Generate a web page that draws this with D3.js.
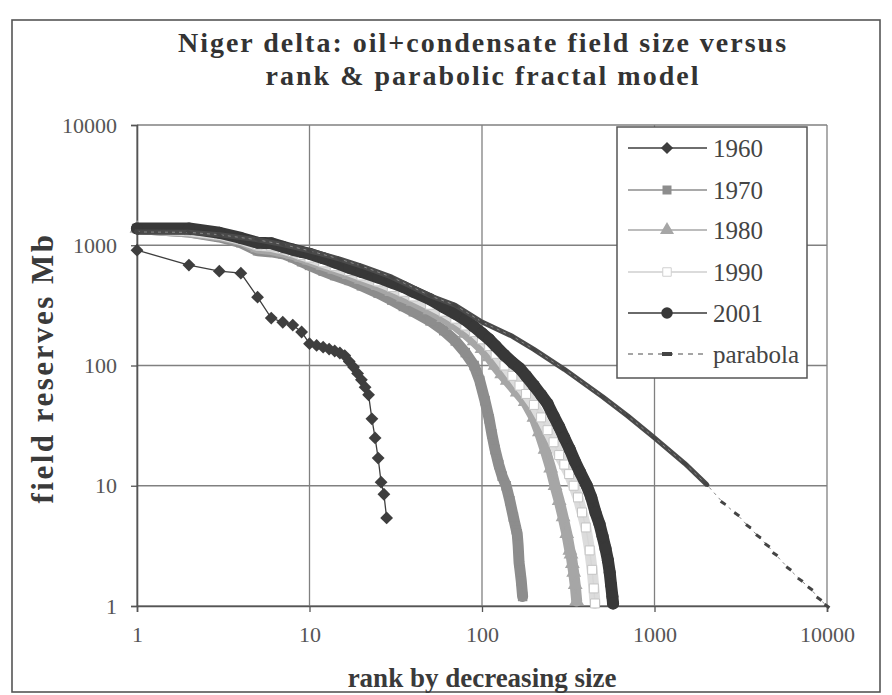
<!DOCTYPE html>
<html><head><meta charset="utf-8">
<script src="https://cdn.jsdelivr.net/npm/d3@7"></script>
<style>body{margin:0;background:#fff}svg{display:block}</style>
</head><body><svg id="c" width="892" height="695"></svg>
<script>
// ---------- data ----------
const axisTicks = [1, 10, 100, 1000, 10000];
const tickLabels = ["1", "10", "100", "1000", "10000"];
const seriesNames = ["1960", "1970", "1980", "1990", "2001", "parabola"];

const ranks1960  = [1,2,3,4,5,6,7,8,9,10,11,12,13,14,15,16,17,18,19,20,21,22,23,24,25,26,27,28];
const values1960 = [910,684,609,586,370,248,229,217,190,152,147,142,137,132,127,121,108,97,86,76,66,57,36,25,17,10.7,8.5,5.4];

const ranks1970  = [1,2,3,4,5,6,7,8,9,10,12,14,17,20,25,30,35,40,50,60,70,80,90,97,104,110,114,119,125,131,138,145,152,158,160,162,164,166,169,172];
const values1970 = [1380,1290,1170,1050,900,880,850,790,730,680,610,560,510,460,400,350,310,280,235,195,160,128,100,75,51,36,27,20,15,12,10,7.5,5.5,4.3,4.0,3.2,2.3,2.0,1.6,1.2];

const ranks1980  = [1,2,3,4,5,6,7,8,9,10,12,14,17,20,25,30,35,40,50,60,70,80,90,100,110,119,130,140,160,178,200,215,232,250,265,280,295,310,323,328,334,340,347,354];
const values1980 = [1380,1290,1200,1100,950,920,880,840,790,750,680,630,570,520,460,410,370,340,290,250,215,185,160,138,118,100,85,75,60,50,37,28,20,14,10,7.5,5.5,4.0,2.9,2.7,2.25,1.9,1.5,1.1];

const ranks1990  = [1,2,3,4,5,6,7,8,9,10,12,14,17,20,25,30,35,40,50,60,70,80,90,100,110,120,135,150,165,180,200,220,240,260,280,300,320,340,360,380,400,421,435,445,452];
const values1990 = [1380,1320,1230,1120,1000,980,930,880,830,790,720,670,610,560,500,450,410,375,320,280,245,215,190,165,145,125,100,82,68,58,47,37,29,23,18,15,12.5,10,8,6,4.5,2.9,2.0,1.4,1.05];

const ranks2001  = [1,2,3,4,5,6,7,8,9,10,12,14,17,20,25,30,35,40,50,60,70,80,90,100,110,120,135,150,165,180,200,220,240,260,280,300,323,345,370,405,430,455,480,500,520,537,550,560,570,575];
const values2001 = [1380,1380,1270,1150,1050,1040,970,920,880,850,780,720,650,600,540,490,450,410,355,305,270,240,210,185,165,145,122,106,95,82,68,57,48,38,31,25,20,16,13,10,8,6,4.8,3.8,3.0,2.4,1.9,1.5,1.2,1.05];

const ranksParabola  = [1,2,3,5,7,10,15,20,30,50,70,100,150,200,300,500,700,1000,1500,2000,2500,3000,3500,4000,4500,5000,6000,7000,8000,9000,10000];
const valuesParabola = [1290,1280,1224,1110,1015,900,767,672,543,380,317,230,175,136,93,55,38,25,15.3,10.3,7.2,5.8,4.6,3.8,3.2,2.7,2.05,1.65,1.4,1.15,1.0];

// ---------- layout ----------
const svg = d3.select("#c");
const x = d3.scaleLog().domain([1, 10000]).range([137, 827]);
const y = d3.scaleLog().domain([1, 10000]).range([606, 125]);
const serif = "Liberation Serif, Times New Roman, serif";

// outer frame
svg.append("rect").attr("x", 12).attr("y", 20).attr("width", 868).attr("height", 672)
  .attr("fill", "#fff").attr("stroke", "#555").attr("stroke-width", 1.6);

// title
const title = svg.append("text").attr("text-anchor", "middle")
  .attr("font-family", serif).attr("font-weight", "bold")
  .attr("font-size", 28).attr("letter-spacing", 2).attr("fill", "#333");
title.append("tspan").attr("x", 483).attr("y", 52).text("Niger delta: oil+condensate field size versus");
title.append("tspan").attr("x", 483).attr("y", 85).text("rank & parabolic fractal model");

// grid
const grid = svg.append("g").attr("stroke", "#808080").attr("stroke-width", 1.3);
axisTicks.forEach(t => {
  grid.append("line").attr("x1", x(1)).attr("x2", x(10000)).attr("y1", y(t)).attr("y2", y(t));
  grid.append("line").attr("x1", x(t)).attr("x2", x(t)).attr("y1", y(1)).attr("y2", y(10000));
});

// axes
const fmt = d => tickLabels[axisTicks.indexOf(d)];
const yAxis = svg.append("g").attr("transform", `translate(${x(1)},0)`)
  .call(d3.axisLeft(y).tickValues(axisTicks).tickFormat(fmt).tickSize(6).tickPadding(14));
const xAxis = svg.append("g").attr("transform", `translate(0,${y(1)})`)
  .call(d3.axisBottom(x).tickValues(axisTicks).tickFormat(fmt).tickSize(6).tickPadding(14));
[xAxis, yAxis].forEach(a => {
  a.select(".domain").attr("stroke", "#555").attr("stroke-width", 1.6);
  a.selectAll(".tick line").attr("stroke", "#555").attr("stroke-width", 1.3);
  a.selectAll("text").attr("font-family", serif).attr("font-size", 22).attr("fill", "#555");
});

// axis titles
svg.append("text").attr("transform", "translate(42,368) rotate(-90)").attr("text-anchor", "middle")
  .attr("dominant-baseline", "central")
  .attr("font-family", serif).attr("font-weight", "bold")
  .attr("font-size", 31).attr("letter-spacing", 2.5).attr("fill", "#3a3a3a").text("field reserves Mb");
svg.append("text").attr("x", 482).attr("y", 687).attr("text-anchor", "middle")
  .attr("font-family", serif).attr("font-weight", "bold")
  .attr("font-size", 27).attr("fill", "#3a3a3a").text("rank by decreasing size");

// ---------- series ----------
const series = [
  {name: "1960", r: ranks1960, v: values1960, color: "#3e3e3e", sym: d3.symbolSquare, size: 82, rot: 45, fill: "#3e3e3e", stroke: "none", band: 0, line: "#3e3e3e"},
  {name: "1970", r: ranks1970, v: values1970, color: "#8d8d8d", sym: d3.symbolSquare, size: 90, rot: 0, fill: "#8d8d8d", stroke: "none", band: 11, line: "#8d8d8d"},
  {name: "1980", r: ranks1980, v: values1980, color: "#a6a6a6", sym: d3.symbolTriangle, size: 95, rot: 0, fill: "#a6a6a6", stroke: "none", band: 11, line: "#a6a6a6"},
  {name: "1990", r: ranks1990, v: values1990, color: "#dcdcdc", sym: d3.symbolSquare, size: 80, rot: 0, fill: "#ffffff", stroke: "#c4c4c4", band: 11, line: "#d6d6d6"},
  {name: "2001", r: ranks2001, v: values2001, color: "#383838", sym: d3.symbolCircle, size: 115, rot: 0, fill: "#383838", stroke: "none", band: 12, line: "#383838"}
];
const line = d3.line().x(d => x(d[0])).y(d => y(d[1]));
const plot = svg.append("g");
series.forEach(s => {
  const pts = s.r.map((r, i) => [r, s.v[i]]);
  if (s.band) {
    plot.append("path").attr("d", line(pts)).attr("fill", "none").attr("stroke", s.color)
      .attr("stroke-width", s.band).attr("stroke-linejoin", "round").attr("stroke-linecap", "round");
  }
  plot.append("path").attr("d", line(pts)).attr("fill", "none").attr("stroke", s.line).attr("stroke-width", 1.3);
  plot.selectAll(null).data(pts).enter().append("path")
    .attr("d", d3.symbol().type(s.sym).size(s.size)())
    .attr("transform", d => `translate(${x(d[0])},${y(d[1])}) rotate(${s.rot})`)
    .attr("fill", s.fill).attr("stroke", s.stroke).attr("stroke-width", 1);
});

// parabola: dense (solid) part up to rank 2000, dashed with sparse markers beyond
const parPts = ranksParabola.map((r, i) => [r, valuesParabola[i]]);
plot.append("path").attr("d", line(parPts.filter(d => d[0] <= 2000))).attr("fill", "none")
  .attr("stroke", "#4a4a4a").attr("stroke-width", 5).attr("stroke-linecap", "round").attr("stroke-linejoin", "round");
plot.append("path").attr("d", line(parPts)).attr("fill", "none")
  .attr("stroke", "#888").attr("stroke-width", 1).attr("stroke-dasharray", "3,4");
plot.selectAll(null).data(parPts).enter().append("rect")
  .attr("x", d => x(d[0]) - 3).attr("y", d => y(d[1]) - 1.5).attr("width", 6).attr("height", 3)
  .attr("fill", "#444")
  .attr("transform", d => `rotate(35,${x(d[0])},${y(d[1])})`);

// ---------- legend ----------
const lg = svg.append("g");
lg.append("rect").attr("x", 617).attr("y", 127).attr("width", 190).attr("height", 251)
  .attr("fill", "#fff").attr("stroke", "#555").attr("stroke-width", 1.5);
const legendY = [148, 190, 230, 272, 313, 354];
seriesNames.forEach((name, i) => {
  const ly = legendY[i];
  const s = series[i];
  if (s) {
    lg.append("line").attr("x1", 628).attr("x2", 707).attr("y1", ly).attr("y2", ly)
      .attr("stroke", s.name === "1990" ? "#cfcfcf" : s.line).attr("stroke-width", 1.5);
    lg.append("path").attr("d", d3.symbol().type(s.sym).size(s.size * 0.9)())
      .attr("transform", `translate(667,${ly}) rotate(${s.rot})`)
      .attr("fill", s.fill).attr("stroke", s.stroke === "none" ? "none" : "#d0d0d0").attr("stroke-width", 1);
  } else {
    lg.append("line").attr("x1", 628).attr("x2", 707).attr("y1", ly).attr("y2", ly)
      .attr("stroke", "#888").attr("stroke-width", 1.5).attr("stroke-dasharray", "5,5");
    lg.append("rect").attr("x", 662).attr("y", ly - 2).attr("width", 10).attr("height", 4).attr("fill", "#444");
  }
  lg.append("text").attr("x", 713).attr("y", ly).attr("dominant-baseline", "central")
    .attr("font-family", serif).attr("font-size", 25)
    .attr("fill", "#444").text(name);
});
</script>
</body></html>
